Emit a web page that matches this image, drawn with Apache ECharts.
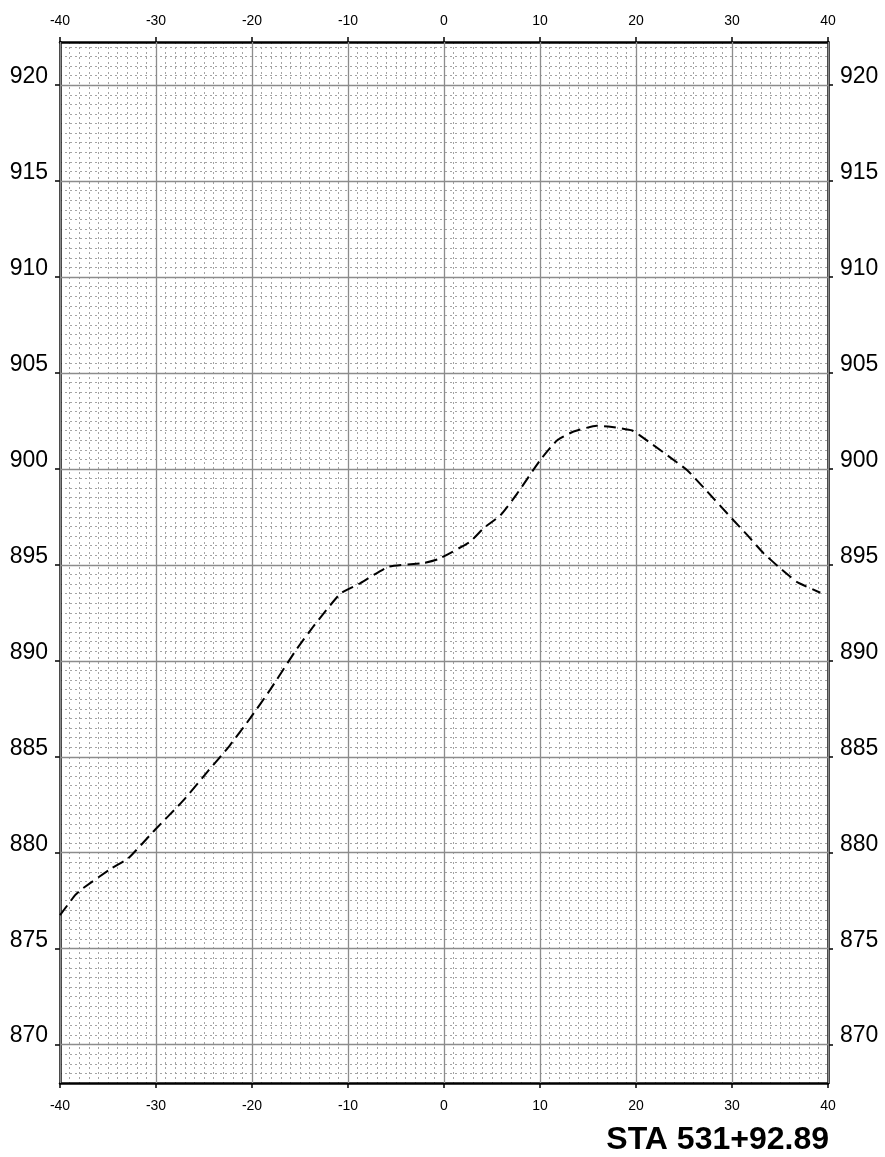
<!DOCTYPE html>
<html>
<head>
<meta charset="utf-8">
<script src="https://cdn.jsdelivr.net/npm/echarts@6/dist/echarts.min.js"></script>
<style>
html,body{margin:0;padding:0;background:#fff;}
#chart{width:885px;height:1157px;}
</style>
</head>
<body>
<div id="chart"></div>
<script>
// Ground profile (offset, elevation)
const offsets = [-40, -38.4, -37.6, -34.6, -32.9, -30.1, -27.2, -24.5, -22.3, -20.2, -18.1, -15.5, -13.6, -10.8, -8.7, -5.8, -2.1, -0.6, 2.7, 4.1, 5.9, 7.6, 10.0, 11.8, 13.5, 15.9, 17.3, 19.6, 20.4, 25.3, 27.0, 30.2, 31.6, 33.3, 35.2, 36.8, 39.2];
const elevations = [876.75, 877.8, 878.15, 879.2, 879.7, 881.2, 882.7, 884.3, 885.6, 887.0, 888.5, 890.5, 891.8, 893.5, 894.05, 894.9, 895.1, 895.3, 896.2, 896.9, 897.6, 898.7, 900.45, 901.5, 901.95, 902.25, 902.2, 902.0, 901.75, 899.95, 899.05, 897.3, 896.55, 895.6, 894.75, 894.1, 893.55];
const xTicks = [-40, -30, -20, -10, 0, 10, 20, 30, 40];
const yTicks = [870, 875, 880, 885, 890, 895, 900, 905, 910, 915, 920];
const title = 'STA 531+92.89';

const X_MIN = -40, X_MAX = 40, Y_MIN = 868, Y_MAX = 922.25;

const chart = echarts.init(document.getElementById('chart'), null, {renderer: 'canvas'});
const font = '"Liberation Sans", Arial, Helvetica, sans-serif';
const minorLine = {show: true, lineStyle: {color: '#a4a4a4', width: 1, type: [2, 3]}};
const axisLine = {show: true, onZero: false, lineStyle: {color: '#000', width: 2.5}};

function xAxisDef(pos) {
  return {
    type: 'value', position: pos, min: X_MIN, max: X_MAX, interval: 10,
    axisLine: axisLine,
    axisTick: {show: true, inside: false, length: 5, lineStyle: {color: '#000', width: 1.5}},
    axisLabel: {show: true, fontSize: 14, color: '#000', fontFamily: font, margin: pos === 'top' ? 14 : 16},
    splitLine: {show: false}
  };
}
function yAxisDef(pos) {
  return {
    type: 'value', position: pos, min: Y_MIN, max: Y_MAX, interval: 0.5,
    axisLine: axisLine,
    axisTick: {show: true, inside: false, length: 5, customValues: yTicks, lineStyle: {color: '#000', width: 1.5}},
    axisLabel: {show: true, customValues: yTicks, fontSize: 23, color: '#000', fontFamily: font, margin: 12,
      verticalAlign: 'bottom', lineHeight: 17},
    splitLine: {show: false}
  };
}
function gridAxis(min, max, step, pos) {
  return {
    type: 'value', position: pos, min: min, max: max, interval: step,
    axisLine: {show: false}, axisTick: {show: false}, axisLabel: {show: false},
    splitLine: minorLine
  };
}

const majorLines = yTicks.map(v => ({yAxis: v})).concat(xTicks.map(v => ({xAxis: v})));

chart.setOption({
  animation: false,
  backgroundColor: '#fff',
  title: {
    text: title, right: 56, top: 1124, padding: 0,
    textStyle: {fontSize: 32, fontWeight: 'bold', color: '#000', fontFamily: font}
  },
  grid: {left: 60, right: 57, top: 42, bottom: 74, containLabel: false},
  xAxis: [xAxisDef('bottom'), xAxisDef('top'), gridAxis(X_MIN, X_MAX, 1, 'bottom')],
  yAxis: [yAxisDef('left'), yAxisDef('right'), gridAxis(Y_MIN, Y_MAX, 0.5, 'left')],
  series: [
    {
      type: 'line', xAxisIndex: 0, yAxisIndex: 0, data: [], z: 1, silent: true,
      markLine: {
        silent: true, symbol: ['none', 'none'], label: {show: false},
        lineStyle: {type: 'solid', color: '#8c8c8c', width: 1.3},
        emphasis: {disabled: true},
        data: majorLines
      }
    },
    {
      type: 'line', xAxisIndex: 0, yAxisIndex: 0, z: 5,
      data: offsets.map((x, i) => [x, elevations[i]]),
      showSymbol: false, symbol: 'none', smooth: 0.15,
      lineStyle: {color: '#000', width: 2, type: [12, 6]}
    }
  ]
});
</script>
</body>
</html>
